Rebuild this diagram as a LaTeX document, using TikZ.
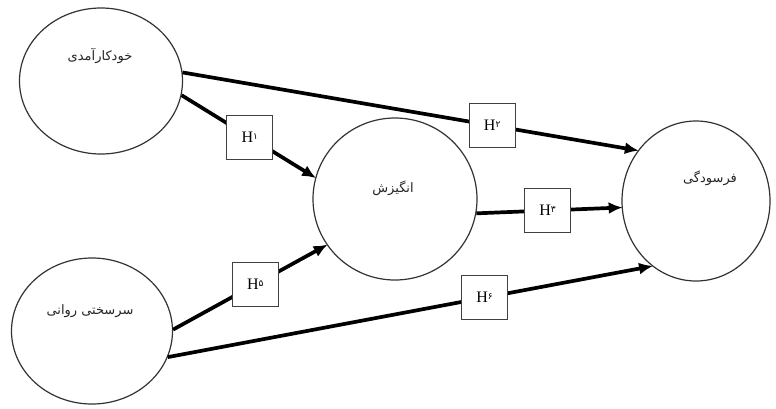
\documentclass[tikz,border=0pt]{standalone}
\usepackage{fontspec}
\setmainfont{Liberation Serif}
\newfontfamily\arabicfont[Script=Arabic]{DejaVu Sans}
\TeXXeTstate=1
\usetikzlibrary{shapes.geometric,arrows.meta}
\tikzset{
  construct/.style={ellipse, draw=black!80, line width=1.2pt, inner sep=0pt, fill=white},
  ptext/.style={font=\arabicfont\fontsize{13}{15}\selectfont, inner sep=0pt, text=black!85},
  hbox/.style={draw=black!75, line width=1pt, fill=white, minimum width=46pt, minimum height=44pt, inner sep=0pt, font=\fontsize{16}{18}\selectfont},
  path/.style={line width=3.7pt, -{Latex[length=14pt,width=12pt]}, shorten >=-1pt}
}
\newcommand{\hlab}[1]{H\raisebox{3pt}{\arabicfont\fontsize{9}{10}\selectfont #1}}
\begin{document}
\begin{tikzpicture}[x=1pt,y=-1pt]
\useasboundingbox[fill=white] (0,0) rectangle (776,408);
\node[construct, minimum width=163pt, minimum height=146pt] (se) at (101,81) {};
\node[construct, minimum width=161pt, minimum height=146pt] (sh) at (92,331) {};
\node[construct, minimum width=164pt, minimum height=162pt] (mo) at (395,199) {};
\node[construct, minimum width=148pt, minimum height=160pt] (fa) at (696,201) {};
\node[ptext] (tse) at (100,56) {\beginR خودکارآمدی\endR};
\node[ptext] (tsh) at (90,311) {\beginR سرسختی روانی\endR};
\node[ptext] (tmo) at (393,188) {\beginR انگیزش\endR};
\node[ptext] (tfa) at (710,178) {\beginR فرسودگی\endR};
\draw[path] (se.6) -- node[hbox, pos=0.68] (h2) {\hlab{۲}} (fa.139);
\draw[path] (se.-10) -- node[hbox, pos=0.51] (h1) {\hlab{۱}} (mo.165);
\draw[path] (mo.-10) -- node[hbox, pos=0.49] (h3) {\hlab{۳}} (fa.185);
\draw[path] (sh.1) -- node[hbox, pos=0.535] (h5) {\hlab{۵}} (mo.-146);
\draw[path] (sh.-19) -- node[hbox, pos=0.654] (h6) {\hlab{۶}} (fa.236);
\end{tikzpicture}
\end{document}
